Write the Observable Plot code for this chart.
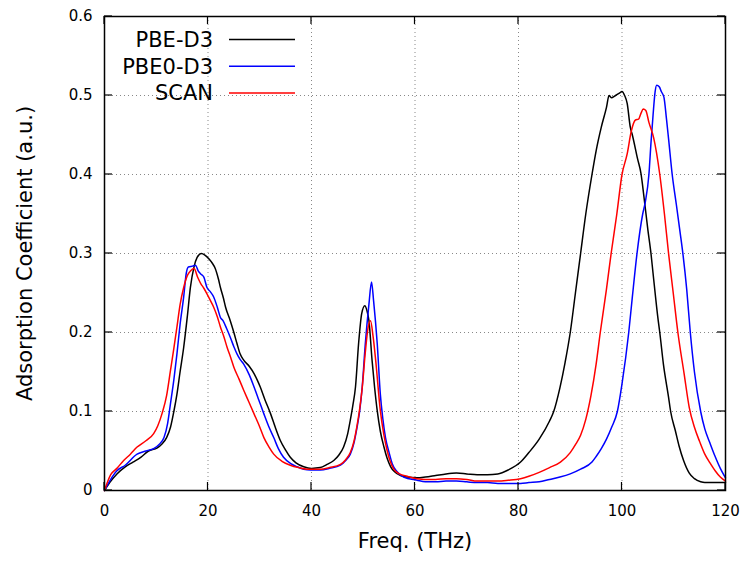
<!DOCTYPE html>
<html><head><meta charset="utf-8">
<script src="https://cdn.jsdelivr.net/npm/d3@7"></script>
<script src="https://cdn.jsdelivr.net/npm/@observablehq/plot@0.6"></script>
<style>body{margin:0;background:#fff} svg{display:block}</style>
</head><body><div id="chart"></div>
<script>
const seriesNames = ["PBE-D3", "PBE0-D3", "SCAN"];
const seriesColors = ["#000000", "#0000ff", "#ff0000"];
const xTicks = [0, 20, 40, 60, 80, 100, 120];
const yTicks = [0, 0.1, 0.2, 0.3, 0.4, 0.5, 0.6];
const xLabel = "Freq. (THz)";
const yLabel = "Adsorption Coefficient (a.u.)";

const pbeD3 = [[0,0],[1,0.01],[2.4,0.021],[4,0.03],[5.5,0.036],[7,0.042],[8.5,0.05],[10.2,0.054],[11.1,0.059],[12,0.067],[12.75,0.08],[13.4,0.1],[14,0.122],[14.6,0.15],[15.3,0.181],[16,0.22],[16.6,0.257],[17.3,0.283],[17.9,0.295],[18.7,0.3],[19.4,0.298],[20.2,0.293],[20.8,0.288],[21.4,0.281],[22,0.268],[22.4,0.257],[23,0.243],[23.4,0.232],[24.3,0.215],[25,0.2],[25.6,0.186],[26.2,0.173],[26.9,0.165],[28,0.157],[28.9,0.148],[29.5,0.14],[30.1,0.131],[31,0.115],[32.1,0.097],[33,0.08],[34,0.063],[35,0.051],[35.9,0.042],[37,0.035],[38.5,0.03],[40,0.028],[41.7,0.029],[43,0.033],[44.3,0.038],[45.3,0.045],[46.2,0.055],[47,0.072],[47.5,0.089],[48,0.108],[48.5,0.131],[49.1,0.186],[49.7,0.224],[50.3,0.234],[50.7,0.228],[51.1,0.215],[51.7,0.165],[52.2,0.13],[52.7,0.101],[53.3,0.075],[54,0.055],[54.6,0.041],[55.3,0.03],[56,0.024],[57.2,0.019],[58.5,0.017],[60.4,0.016],[62,0.017],[64,0.019],[66,0.021],[68,0.022],[70,0.021],[72,0.02],[74,0.02],[76,0.021],[78,0.026],[80.4,0.036],[82,0.048],[84,0.065],[86,0.088],[86.8,0.1],[88,0.13],[89,0.162],[90,0.2],[91,0.25],[92,0.3],[93,0.35],[94.2,0.4],[95,0.43],[96,0.46],[97,0.485],[97.5,0.5],[98,0.497],[98.5,0.499],[99,0.501],[99.5,0.503],[100,0.505],[100.5,0.5],[101,0.49],[101.6,0.46],[102,0.45],[103,0.42],[103.7,0.4],[104,0.385],[105,0.33],[105.6,0.3],[106,0.275],[107,0.215],[107.3,0.2],[108,0.16],[109,0.118],[109.4,0.1],[110.3,0.076],[111,0.057],[111.9,0.038],[113,0.022],[114,0.015],[115.2,0.011],[116,0.01],[118,0.01],[120,0.01]];

const pbe0D3 = [[0,0],[1,0.012],[2.4,0.025],[4,0.032],[6.3,0.046],[8,0.05],[9.5,0.053],[10.5,0.058],[11.5,0.067],[12.2,0.085],[12.75,0.11],[13.4,0.14],[14,0.173],[14.6,0.21],[15.3,0.245],[15.8,0.275],[16.2,0.283],[17,0.284],[17.6,0.285],[18.1,0.278],[18.6,0.274],[19.2,0.27],[19.8,0.257],[20.4,0.252],[21.1,0.245],[21.8,0.232],[22.4,0.219],[22.9,0.215],[23.6,0.205],[24.3,0.194],[25,0.182],[25.6,0.173],[26.2,0.166],[26.9,0.16],[28,0.146],[28.9,0.131],[29.8,0.115],[30.8,0.097],[31.8,0.08],[32.7,0.067],[33.6,0.053],[34.6,0.042],[36,0.034],[37.2,0.03],[38.5,0.027],[39.8,0.026],[41.7,0.026],[43.5,0.028],[45.6,0.032],[46.6,0.038],[47.5,0.046],[48.2,0.06],[48.8,0.08],[49.3,0.1],[49.8,0.131],[50.4,0.186],[51.1,0.236],[51.6,0.264],[52,0.24],[52.7,0.186],[53.3,0.122],[53.8,0.09],[54.3,0.067],[55,0.048],[55.6,0.034],[56.5,0.024],[57.8,0.017],[60.4,0.013],[62,0.011],[64,0.011],[66,0.012],[68,0.012],[70,0.011],[72,0.01],[74,0.01],[76,0.009],[78,0.009],[80.4,0.009],[82,0.01],[84,0.011],[86,0.014],[88,0.017],[90,0.021],[92,0.027],[94.2,0.036],[95,0.043],[96,0.053],[97,0.065],[98,0.08],[99.1,0.1],[100,0.135],[101.3,0.2],[102,0.245],[102.9,0.3],[104,0.35],[104.5,0.365],[105.2,0.4],[105.6,0.44],[106,0.475],[106.4,0.505],[106.7,0.513],[107.2,0.511],[107.6,0.505],[108.1,0.498],[108.6,0.47],[109,0.445],[109.7,0.4],[110.5,0.362],[111.2,0.328],[111.8,0.298],[112.5,0.255],[113.2,0.2],[114,0.15],[115.2,0.1],[116,0.078],[117,0.06],[118,0.043],[119,0.028],[120,0.016]];

const scan = [[0,0],[1.2,0.02],[2.4,0.028],[3.7,0.038],[5,0.046],[6.3,0.055],[8,0.063],[9.5,0.072],[10.3,0.082],[11.1,0.097],[12,0.12],[12.75,0.152],[13.4,0.18],[14,0.207],[14.6,0.235],[15.3,0.257],[16,0.272],[16.6,0.278],[17.3,0.281],[18,0.27],[18.6,0.262],[19.2,0.256],[19.8,0.249],[20.5,0.24],[21.1,0.232],[21.8,0.22],[22.4,0.207],[23.1,0.194],[23.7,0.181],[24.4,0.168],[25,0.156],[26,0.141],[26.9,0.127],[27.9,0.112],[28.9,0.097],[29.9,0.082],[30.8,0.067],[31.8,0.055],[32.7,0.046],[34.3,0.037],[35.9,0.032],[37.5,0.029],[39.2,0.027],[41.7,0.027],[43.5,0.029],[45.6,0.033],[46.6,0.039],[47.5,0.048],[48.2,0.062],[48.8,0.082],[49.3,0.103],[49.8,0.13],[50.4,0.175],[50.9,0.205],[51.4,0.215],[51.9,0.195],[52.4,0.165],[53.3,0.101],[54,0.07],[54.6,0.051],[55.2,0.037],[55.9,0.027],[57,0.021],[58.5,0.018],[60.4,0.015],[62,0.014],[64,0.014],[66,0.015],[68,0.015],[70,0.014],[72,0.012],[74,0.012],[76,0.012],[78,0.013],[80.4,0.015],[82,0.018],[84,0.023],[86,0.029],[88.1,0.036],[90,0.048],[91,0.058],[92,0.07],[93,0.09],[94,0.12],[95,0.16],[95.8,0.2],[97,0.255],[97.9,0.3],[99,0.35],[100,0.4],[101,0.426],[101.8,0.455],[102.6,0.469],[103.2,0.47],[103.7,0.478],[104.1,0.483],[104.6,0.481],[105.2,0.466],[106.1,0.447],[107.3,0.4],[108.2,0.35],[109,0.3],[109.9,0.25],[110.8,0.2],[112,0.148],[113,0.105],[114,0.08],[115,0.062],[116,0.046],[117,0.035],[118,0.025],[119,0.017],[120,0.012]];

const rows = [pbeD3, pbe0D3, scan].flatMap((arr, i) => arr.map(([f, a]) => ({series: seriesNames[i], f, a})));

const W = 745, H = 563, mL = 104, mR = 20, mT = 16, mB = 73;
const tl = 8;
const font = "'DejaVu Sans', sans-serif";

const chart = Plot.plot({
  width: W, height: H,
  marginLeft: mL, marginRight: mR, marginTop: mT, marginBottom: mB,
  style: {fontFamily: font, fontSize: "15px", color: "#000", background: "#fff"},
  x: {domain: [0, 120]},
  y: {domain: [0, 0.6]},
  color: {domain: seriesNames, range: seriesColors},
  marks: [
    Plot.gridX(xTicks.slice(1, -1), {stroke: "#888", strokeOpacity: 1, strokeDasharray: "1,3"}),
    Plot.gridY(yTicks.slice(1, -1), {stroke: "#888", strokeOpacity: 1, strokeDasharray: "1,3"}),
    Plot.axisX(xTicks, {tickSize: 0, tickPadding: 15, fontSize: 15, label: null, tickFormat: d => String(d)}),
    Plot.axisY(yTicks, {tickSize: 0, tickPadding: 12, fontSize: 15, label: null, tickFormat: d => d === 0 ? "0" : d.toFixed(1)}),
    Plot.line(rows, {x: "f", y: "a", z: "series", stroke: "series", strokeWidth: 1.5, curve: "monotone-x"}),
    Plot.frame({stroke: "#000", strokeWidth: 1.5}),
    Plot.text([xLabel], {frameAnchor: "bottom", dy: 57, fontSize: 21, fill: "#000"}),
    Plot.text([yLabel], {frameAnchor: "left", dx: -79, rotate: -90, textAnchor: "middle", fontSize: 21, fill: "#000"})
  ]
});

const svg = d3.select(chart);
const sx = chart.scale("x"), sy = chart.scale("y");
const x0 = sx.apply(0), x1 = sx.apply(120), y0 = sy.apply(0), y1 = sy.apply(0.6);
const tg = svg.append("g").attr("stroke", "#000").attr("stroke-width", 1.2);
xTicks.forEach(v => {
  const px = sx.apply(v);
  tg.append("line").attr("x1", px).attr("x2", px).attr("y1", y0).attr("y2", y0 - tl);
  tg.append("line").attr("x1", px).attr("x2", px).attr("y1", y1).attr("y2", y1 + tl);
});
yTicks.forEach(v => {
  const py = sy.apply(v);
  tg.append("line").attr("x1", x0).attr("x2", x0 + tl).attr("y1", py).attr("y2", py);
  tg.append("line").attr("x1", x1).attr("x2", x1 - tl).attr("y1", py).attr("y2", py);
});

const leg = svg.append("g").attr("font-family", font).attr("font-size", 21);
seriesNames.forEach((name, i) => {
  const cy = 39.5 + i * 26.7;
  leg.append("text").attr("x", 213).attr("y", cy).attr("dy", "0.35em")
    .attr("text-anchor", "end").attr("fill", "#000").text(name);
  leg.append("line").attr("x1", 229).attr("x2", 295).attr("y1", cy).attr("y2", cy)
    .attr("stroke", seriesColors[i]).attr("stroke-width", 1.5);
});

document.getElementById("chart").appendChild(chart);
</script>
</body></html>
